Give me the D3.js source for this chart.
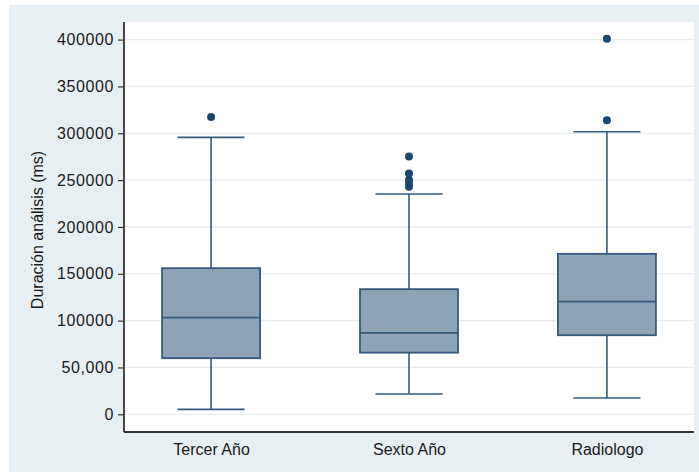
<!DOCTYPE html>
<html>
<head>
<meta charset="utf-8">
<script src="https://cdn.jsdelivr.net/npm/d3@7"></script>
<style>
  html, body { margin: 0; padding: 0; background: #ffffff; }
  svg { display: block; }
  text { font-family: "Liberation Sans", Arial, sans-serif; fill: #1a1a1a; }
</style>
</head>
<body>
<svg id="chart" width="699" height="472"></svg>
<script>
const categories = ["Tercer Año", "Sexto Año", "Radiologo"];
const lowerWhisker = [5300, 21700, 17400];
const q1 = [59900, 65800, 84400];
const median = [103200, 86900, 120300];
const q3 = [156000, 133600, 171300];
const upperWhisker = [295600, 235100, 301700];
const outliers = [
  [317400],
  [275300, 257000, 250000, 246000, 243000],
  [400800, 313800]
];
const tickValues = [0, 50000, 100000, 150000, 200000, 250000, 300000, 350000, 400000];
const tickLabels = ["0", "50,000", "100000", "150000", "200000", "250000", "300000", "350000", "400000"];
const yTitle = "Duración análisis (ms)";

const svg = d3.select("#chart");
const W = 699, H = 472;
const plot = { left: 124, right: 694, top: 22, bottom: 432 };

// outer background
svg.append("rect").attr("x", 9).attr("y", 5).attr("width", W - 9).attr("height", H - 5).attr("fill", "#e8eff2");
// plot region
svg.append("rect").attr("x", plot.left).attr("y", plot.top)
  .attr("width", plot.right - plot.left).attr("height", plot.bottom - plot.top).attr("fill", "#ffffff");

const y = d3.scaleLinear().domain([0, 400000]).range([414.3, 39.6]);
const x = d3.scalePoint().domain(categories).range([plot.left, plot.right]).padding(0.44);

// gridlines
svg.append("g").selectAll("line").data(tickValues).join("line")
  .attr("x1", plot.left).attr("x2", plot.right)
  .attr("y1", d => y(d)).attr("y2", d => y(d))
  .attr("stroke", "#e6eef0").attr("stroke-width", 1.2);

// y axis
const yAxis = d3.axisLeft(y).tickValues(tickValues)
  .tickFormat((d, i) => tickLabels[i]).tickSize(6).tickPadding(4);
const gy = svg.append("g").attr("transform", `translate(${plot.left},0)`).call(yAxis);
gy.select(".domain").remove();
gy.selectAll(".tick line").attr("stroke", "#333").attr("stroke-width", 1.2);
gy.selectAll(".tick text").attr("font-size", 16).attr("fill", "#1a1a1a")
  .attr("font-family", "Liberation Sans, Arial, sans-serif").attr("letter-spacing", 0.6);
svg.append("line").attr("x1", plot.left).attr("x2", plot.left)
  .attr("y1", plot.top).attr("y2", plot.bottom).attr("stroke", "#333").attr("stroke-width", 1.8);

// x axis (category labels, no ticks)
const xAxis = d3.axisBottom(x).tickSize(0).tickPadding(12);
const gx = svg.append("g").attr("transform", `translate(0,${plot.bottom})`).call(xAxis);
gx.select(".domain").remove();
gx.selectAll(".tick text").attr("font-size", 16).attr("fill", "#1a1a1a")
  .attr("font-family", "Liberation Sans, Arial, sans-serif");
svg.append("line").attr("x1", plot.left).attr("x2", plot.right)
  .attr("y1", plot.bottom).attr("y2", plot.bottom).attr("stroke", "#333").attr("stroke-width", 1.8);

// y title
svg.append("text").attr("transform", `translate(43,230) rotate(-90)`)
  .attr("text-anchor", "middle").attr("font-size", 16).text(yTitle);

// boxes
const boxW = 98, capW = 67;
const lineColor = "#365a7d";
const g = svg.append("g");
categories.forEach((c, i) => {
  const cx = x(c);
  // whiskers
  g.append("line").attr("x1", cx).attr("x2", cx).attr("y1", y(q3[i])).attr("y2", y(upperWhisker[i]))
    .attr("stroke", lineColor).attr("stroke-width", 1.6);
  g.append("line").attr("x1", cx).attr("x2", cx).attr("y1", y(q1[i])).attr("y2", y(lowerWhisker[i]))
    .attr("stroke", lineColor).attr("stroke-width", 1.6);
  g.append("line").attr("x1", cx - capW / 2).attr("x2", cx + capW / 2)
    .attr("y1", y(upperWhisker[i])).attr("y2", y(upperWhisker[i]))
    .attr("stroke", lineColor).attr("stroke-width", 1.6);
  g.append("line").attr("x1", cx - capW / 2).attr("x2", cx + capW / 2)
    .attr("y1", y(lowerWhisker[i])).attr("y2", y(lowerWhisker[i]))
    .attr("stroke", lineColor).attr("stroke-width", 1.6);
  // box
  g.append("rect").attr("x", cx - boxW / 2).attr("width", boxW)
    .attr("y", y(q3[i])).attr("height", y(q1[i]) - y(q3[i]))
    .attr("fill", "#8da3b6").attr("stroke", lineColor).attr("stroke-width", 1.8);
  // median
  g.append("line").attr("x1", cx - boxW / 2).attr("x2", cx + boxW / 2)
    .attr("y1", y(median[i])).attr("y2", y(median[i]))
    .attr("stroke", lineColor).attr("stroke-width", 1.8);
  // outliers
  g.selectAll(null).data(outliers[i]).join("circle")
    .attr("cx", cx).attr("cy", d => y(d)).attr("r", 4)
    .attr("fill", "#1a476f");
});
</script>
</body>
</html>
